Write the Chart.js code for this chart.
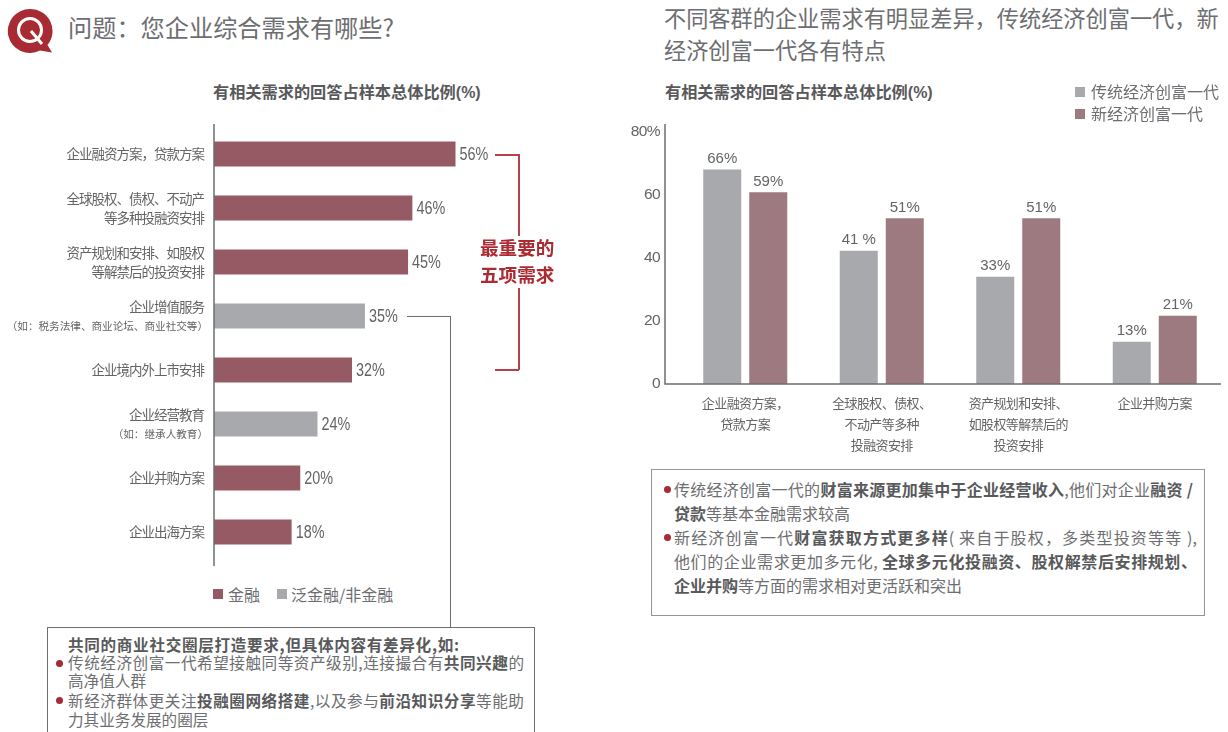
<!DOCTYPE html>
<html lang="zh">
<head>
<meta charset="utf-8">
<title>企业综合需求</title>
<script src="https://cdn.jsdelivr.net/npm/chart.js@4"></script>
<style>
html, body { margin: 0; padding: 0; background: #fff; }
body { position: relative; width: 1228px; height: 732px; overflow: hidden; font-family: "Noto Sans CJK SC", sans-serif; color: #636466; }
canvas { position: absolute; }
.t { position: absolute; white-space: nowrap; line-height: 1; }
.j { white-space: normal; text-align-last: justify; }
.head { font-size: 24.2px; color: #6d6e71; }
.head2 { font-size: 22.2px; color: #6d6e71; }
.sub { font-size: 16.2px; font-weight: 700; color: #58595b; }
.sub span { font-family: "Liberation Sans", sans-serif; font-size: 16px; }
.leg { font-size: 16px; color: #6d6e71; }
.sq { position: absolute; width: 10px; height: 10px; }
.ln { position: absolute; }
.red { background: #b5414a; }
.gry { background: #6d6e71; }
.box { position: absolute; box-sizing: border-box; background: #fff; }
.note { font-size: 15.6px; color: #6d6e71; }
.note b { color: #58595b; }
.note2 { font-size: 16px; color: #6d6e71; }
.note2 b { color: #58595b; }
.dot { position: absolute; width: 7px; height: 7px; border-radius: 50%; background: #a82a32; }
.big { font-size: 18.6px; font-weight: 700; color: #ab2b33; }
</style>
</head>
<body>

<svg style="position:absolute;left:0;top:0" width="60" height="60">
  <path d="M30 9 A22 22 0 1 0 40 50.5 L52 52.5 L47.5 45 A22 22 0 0 0 30 9 Z" fill="#a82a32"/>
  <circle cx="30" cy="30" r="11.5" fill="none" stroke="#fff" stroke-width="3"/>
  <path d="M31 31 L42 44" stroke="#fff" stroke-width="3"/>
</svg>
<div class="t head" style="left:68px;top:15px">问题&#xFF1A;您企业综合需求有哪些?</div>
<div class="t head2" style="left:664px;top:6px">不同客群的企业需求有明显差异&#xFF0C;传统经济创富一代&#xFF0C;新</div>
<div class="t head2" style="left:664px;top:38px">经济创富一代各有特点</div>
<div class="t sub" style="left:213px;top:83px">有相关需求的回答占样本总体比例<span>(%)</span></div>
<div class="t sub" style="left:665px;top:83px">有相关需求的回答占样本总体比例<span>(%)</span></div>

<canvas id="demandChart" width="559" height="470" style="left:0;top:110px"></canvas>
<canvas id="groupChart" width="613" height="350" style="left:610px;top:110px"></canvas>

<!-- bracket round the top five -->
<div class="ln red" style="left:495px;top:154px;width:24px;height:1.5px"></div>
<div class="ln red" style="left:518px;top:154px;width:1.5px;height:82px"></div>
<div class="ln red" style="left:518px;top:288px;width:1.5px;height:82px"></div>
<div class="ln red" style="left:495px;top:369px;width:24px;height:1.5px"></div>
<div class="t big" style="left:480px;top:238px">最重要的</div>
<div class="t big" style="left:480px;top:265px">五项需求</div>

<!-- connector from 企业增值服务 to the box -->
<div class="ln gry" style="left:407px;top:316px;width:43px;height:1px"></div>
<div class="ln gry" style="left:450px;top:316px;width:1px;height:312px"></div>

<div class="sq" style="left:213px;top:589px;background:#955a64"></div>
<div class="t leg" style="left:228px;top:586px">金融</div>
<div class="sq" style="left:277px;top:589px;background:#a7a9ac"></div>
<div class="t leg" style="left:291px;top:586px">泛金融/非金融</div>

<div class="sq" style="left:1075px;top:87px;background:#a7a9ac"></div>
<div class="t leg" style="left:1091px;top:83px">传统经济创富一代</div>
<div class="sq" style="left:1075px;top:109px;background:#9c7a7f"></div>
<div class="t leg" style="left:1091px;top:105px">新经济创富一代</div>

<div class="box" style="left:47px;top:627px;width:488px;height:120px;border:1px solid #6d6e71"></div>
<div class="t note j" style="left:68px;top:637px;width:391px"><b>共同的商业社交圈层打造要求,但具体内容有差异化,如:</b></div>
<div class="dot" style="left:56px;top:660px"></div>
<div class="t note j" style="left:68px;top:655px;width:456px">传统经济创富一代希望接触同等资产级别,连接撮合有<b>共同兴趣</b>的</div>
<div class="t note" style="left:68px;top:673px">高净值人群</div>
<div class="dot" style="left:56px;top:697px"></div>
<div class="t note j" style="left:68px;top:693px;width:456px">新经济群体更关注<b>投融圈网络搭建</b>,以及参与<b>前沿知识分享</b>等能助</div>
<div class="t note" style="left:68px;top:712px">力其业务发展的圈层</div>

<div class="box" style="left:651px;top:469px;width:554px;height:147px;border:1.5px solid #939598"></div>
<div class="dot" style="left:664px;top:486px"></div>
<div class="t note2 j" style="left:674px;top:481px;width:519px">传统经济创富一代的<b>财富来源更加集中于企业经营收入</b>,他们对企业<b>融资 /</b></div>
<div class="t note2" style="left:674px;top:505px"><b>贷款</b>等基本金融需求较高</div>
<div class="dot" style="left:664px;top:534px"></div>
<div class="t note2 j" style="left:674px;top:529px;width:523px">新经济创富一代<b>财富获取方式更多样</b>( 来自于股权&#xFF0C;多类型投资等等 ),</div>
<div class="t note2 j" style="left:674px;top:553px;width:523px">他们的企业需求更加多元化, <b>全球多元化投融资、股权解禁后安排规划、</b></div>
<div class="t note2" style="left:674px;top:577px"><b>企业并购</b>等方面的需求相对更活跃和突出</div>

<script>
var demandLabels = [
	"企业融资方案\uFF0C贷款方案",
	["全球股权、债权、不动产", "等多种投融资安排"],
	["资产规划和安排、如股权", "等解禁后的投资安排"],
	["企业增值服务", " "],
	"企业境内外上市安排",
	["企业经营教育", " "],
	"企业并购方案",
	"企业出海方案"
];
var demandNotes = [null, null, null, "\uFF08如\uFF1A税务法律、商业论坛、商业社交等\uFF09", null, "\uFF08如\uFF1A继承人教育\uFF09", null, null];
var demandValues = [56, 46, 45, 35, 32, 24, 20, 18];
var demandKinds = ["金融", "金融", "金融", "泛金融", "金融", "泛金融", "金融", "金融"];

var groupLabels = [
	["企业融资方案\uFF0C", "贷款方案"],
	["全球股权、债权、", "不动产等多种", "投融资安排"],
	["资产规划和安排、", "如股权等解禁后的", "投资安排"],
	"企业并购方案"
];
var traditional = [66, 41, 33, 13];
var newEconomy = [59, 51, 51, 21];
var traditionalText = ["66%", "41 %", "33%", "13%"];
var newEconomyText = ["59%", "51%", "51%", "21%"];
var yTickLabels = ["0", "20", "40", "60", "80%"];

var CJK = '"Noto Sans CJK SC", sans-serif';
var LATIN = '"Liberation Sans", sans-serif';
var MAROON = "#955a64", MAUVE = "#9c7a7f", GREY = "#a7a9ac", AXIS = "#6d6e71", INK = "#636466";

// tick text is set a bit tighter than the font's own advance
function tightTicks(spacing) {
	return {
		id: "tightTicks",
		beforeDraw: function(chart) { chart.ctx.letterSpacing = spacing; },
		afterDraw: function(chart) { chart.ctx.letterSpacing = "0px"; }
	};
}

function noScalePadding(scale) {
	scale.paddingTop = 0;
	scale.paddingBottom = 0;
	scale.paddingLeft = 0;
	scale.paddingRight = 0;
}

// value text beside the horizontal bars, small second line under two labels, axis rule
var demandDecor = {
	id: "demandDecor",
	afterDatasetsDraw: function(chart) {
		var ctx = chart.ctx, area = chart.chartArea, yScale = chart.scales.y;
		ctx.save();
		ctx.letterSpacing = "0px";
		ctx.strokeStyle = AXIS;
		ctx.lineWidth = 1.5;
		ctx.beginPath();
		ctx.moveTo(area.left, area.top - 3);
		ctx.lineTo(area.left, area.bottom + 7);
		ctx.stroke();

		ctx.fillStyle = INK;
		ctx.textBaseline = "middle";
		ctx.textAlign = "left";
		ctx.font = "18px " + LATIN;
		chart.getDatasetMeta(0).data.forEach(function(bar, i) {
			ctx.save();
			ctx.translate(bar.x + 4, bar.y + 1);
			ctx.scale(0.8, 1);
			ctx.fillText(demandValues[i] + "%", 0, 0);
			ctx.restore();
		});

		ctx.textAlign = "right";
		ctx.font = "10.6px " + CJK;
		demandNotes.forEach(function(note, i) {
			if (note) ctx.fillText(note, area.left - 6, yScale.getPixelForValue(i) + 9.5);
		});
		ctx.restore();
	}
};

var groupDecor = {
	id: "groupDecor",
	afterDatasetsDraw: function(chart) {
		var ctx = chart.ctx, area = chart.chartArea;
		ctx.save();
		ctx.letterSpacing = "0px";
		ctx.strokeStyle = AXIS;
		ctx.lineWidth = 1.5;
		ctx.beginPath();
		ctx.moveTo(area.left - 12, area.top);
		ctx.lineTo(area.left - 12, area.bottom);
		ctx.lineTo(area.right - 2, area.bottom);
		ctx.stroke();

		ctx.fillStyle = INK;
		ctx.textBaseline = "bottom";
		ctx.textAlign = "center";
		ctx.font = "15px " + LATIN;
		[traditionalText, newEconomyText].forEach(function(texts, d) {
			chart.getDatasetMeta(d).data.forEach(function(bar, i) {
				ctx.fillText(texts[i], bar.x, bar.y - 3);
			});
		});
		ctx.restore();
	}
};

new Chart(document.getElementById("demandChart"), {
	type: "bar",
	plugins: [tightTicks("-1px"), demandDecor],
	data: {
		labels: demandLabels,
		datasets: [{
			data: demandValues,
			backgroundColor: demandKinds.map(function(k) { return k === "金融" ? MAROON : GREY; }),
			barPercentage: 0.46,
			categoryPercentage: 1
		}]
	},
	options: {
		indexAxis: "y",
		responsive: false,
		animation: false,
		layout: { padding: { top: 17, bottom: 21 } },
		plugins: { legend: { display: false }, tooltip: { enabled: false } },
		scales: {
			x: { display: false, min: 0, max: 80 },
			y: {
				afterFit: function(scale) { scale.width = 214; noScalePadding(scale); },
				grid: { display: false, drawTicks: false },
				border: { display: false },
				ticks: {
					autoSkip: false,
					padding: 10,
					color: INK,
					font: { family: CJK, size: 13.5, lineHeight: 1.4 }
				}
			}
		}
	}
});

new Chart(document.getElementById("groupChart"), {
	type: "bar",
	plugins: [tightTicks("-0.6px"), groupDecor],
	data: {
		labels: groupLabels,
		datasets: [
			{ label: "传统经济创富一代", data: traditional, backgroundColor: GREY, yAxisID: "y", barPercentage: 0.826, categoryPercentage: 0.674 },
			{ label: "新经济创富一代", data: newEconomy, backgroundColor: MAUVE, yAxisID: "y", barPercentage: 0.826, categoryPercentage: 0.674 }
		]
	},
	options: {
		responsive: false,
		animation: false,
		layout: { padding: { top: 14 } },
		plugins: { legend: { display: false }, tooltip: { enabled: false } },
		scales: {
			x: {
				afterFit: function(scale) { scale.height = 76; noScalePadding(scale); },
				grid: { display: false, drawTicks: false },
				border: { display: false },
				ticks: {
					autoSkip: false,
					maxRotation: 0,
					padding: 9,
					color: INK,
					font: { family: CJK, size: 13, lineHeight: 1.6 }
				}
			},
			y: { display: false, min: 0, max: 80 },
			// printed tick labels sit a little tighter than the bars' own scale
			yTicks: {
				position: "left",
				min: 0,
				max: 82.5,
				afterFit: function(scale) { scale.width = 67; noScalePadding(scale); },
				grid: { display: false, drawTicks: false },
				border: { display: false },
				ticks: {
					stepSize: 20,
					includeBounds: false,
					padding: 17,
					color: INK,
					font: { family: LATIN, size: 15.5 },
					callback: function(value) { return yTickLabels[value / 20]; }
				}
			}
		}
	}
});
</script>
</body>
</html>
